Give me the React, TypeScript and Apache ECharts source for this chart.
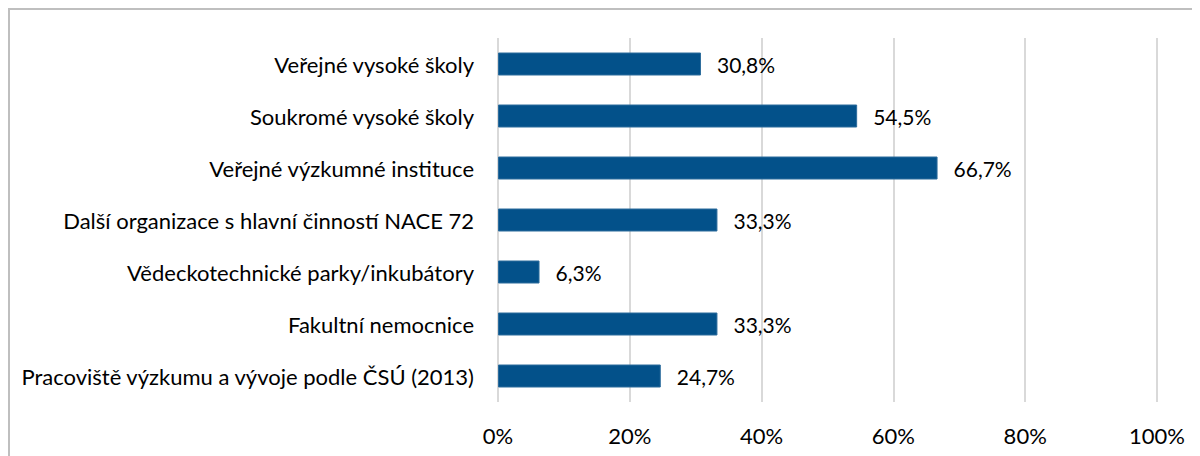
import React, { useEffect, useRef } from "react";
import * as echarts from "echarts";

const categories = [
  "Veřejné vysoké školy",
  "Soukromé vysoké školy",
  "Veřejné výzkumné instituce",
  "Další organizace s hlavní činností NACE 72",
  "Vědeckotechnické parky/inkubátory",
  "Fakultní nemocnice",
  "Pracoviště výzkumu a vývoje podle ČSÚ (2013)",
];
const values = [30.8, 54.5, 66.7, 33.3, 6.3, 33.3, 24.7];
const axisMin = 0;
const axisMax = 100;
const axisInterval = 20;

const FONT = "Lato";

export default function App() {
  const ref = useRef<HTMLDivElement>(null);
  useEffect(() => {
    if (!ref.current) return;
    const chart = echarts.init(ref.current, null, { renderer: "svg" });
    chart.setOption({
      animation: false,
      backgroundColor: "#ffffff",
      grid: { left: 488, right: 43, top: 28, bottom: 54, containLabel: false },
      xAxis: {
        type: "value",
        min: axisMin,
        max: axisMax,
        interval: axisInterval,
        axisLine: { show: false },
        axisTick: { show: false },
        splitLine: { show: true, lineStyle: { color: "#d9d9d9", width: 2 } },
        axisLabel: {
          formatter: (v: number) => `${v}%`,
          fontFamily: FONT,
          fontSize: 22,
          color: "#000",
          margin: 22,
        },
      },
      yAxis: {
        type: "category",
        data: categories,
        inverse: true,
        axisLine: { show: false },
        axisTick: { show: false },
        axisLabel: {
          fontFamily: FONT,
          fontSize: 22,
          color: "#000",
          margin: 24,
        },
      },
      series: [
        {
          type: "bar",
          data: values,
          barWidth: 23,
          itemStyle: { color: "#03518a", borderColor: "#2d6c9c", borderWidth: 1 },
          label: {
            show: true,
            position: "right",
            distance: 16,
            fontFamily: FONT,
            fontSize: 21,
            color: "#000",
            formatter: (p: any) => `${p.value.toFixed(1).replace(".", ",")}%`,
          },
        },
      ],
    });
    return () => chart.dispose();
  }, []);
  return (
    <div
      style={{
        width: 1190,
        height: 446,
        borderLeft: "2px solid #bfbfbf",
        borderTop: "2px solid #bfbfbf",
      }}
    >
      <div ref={ref} style={{ width: 1190, height: 446 }} />
    </div>
  );
}
